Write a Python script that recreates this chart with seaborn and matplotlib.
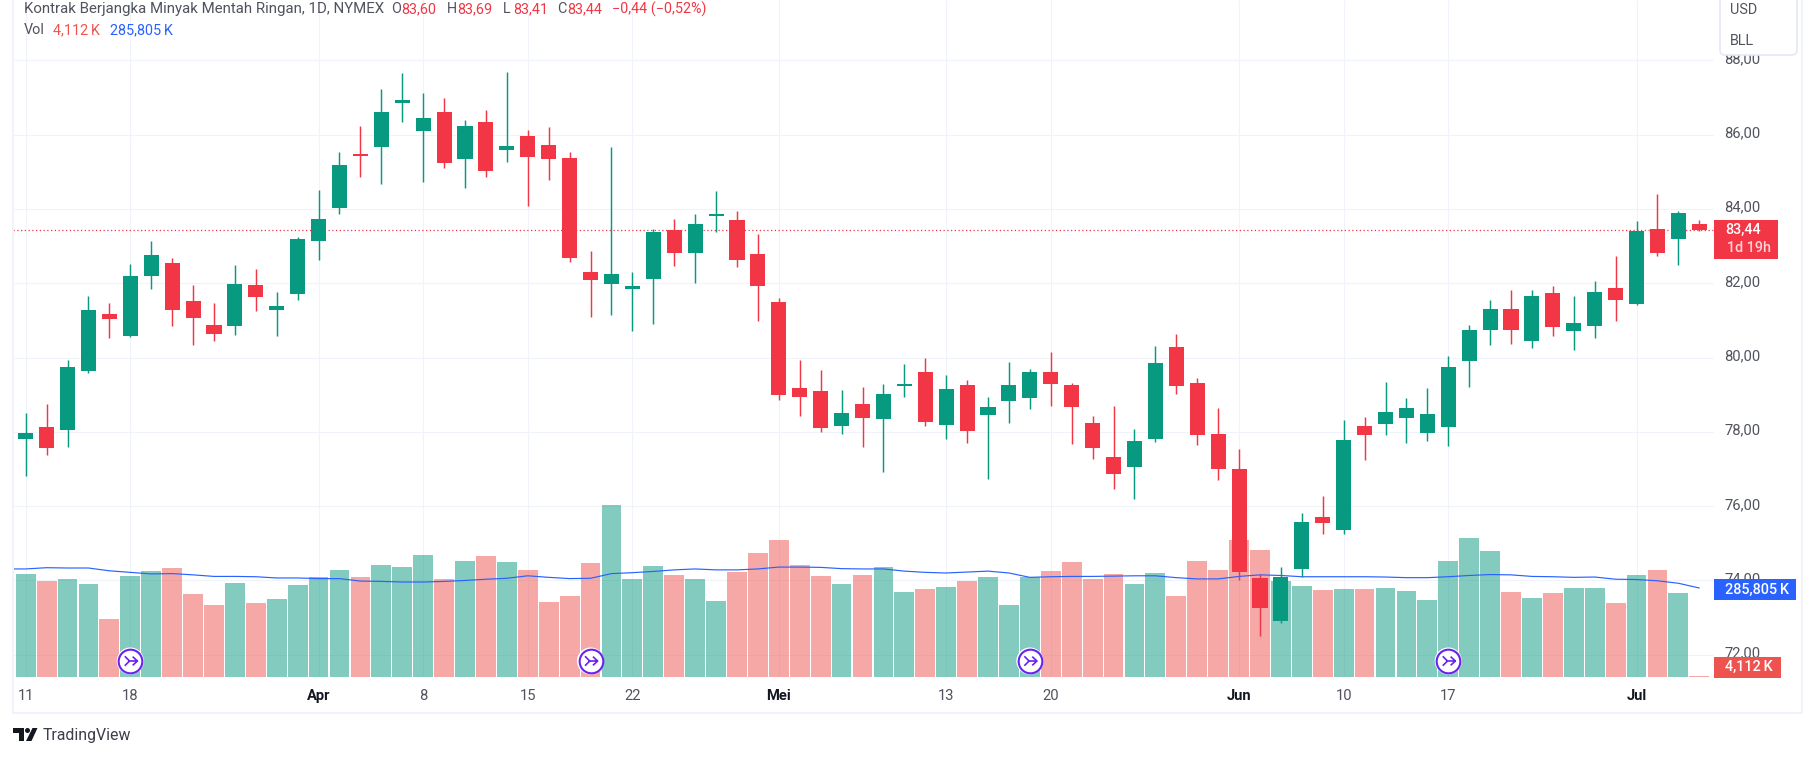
import numpy as np
import pandas as pd
import matplotlib
matplotlib.use("Agg")
import matplotlib.pyplot as plt
from matplotlib.patches import Rectangle, FancyBboxPatch, Polygon, Circle
from matplotlib.path import Path
from matplotlib.transforms import ScaledTranslation
import seaborn as sns

opens = [77.80,78.13,78.04,79.64,81.17,80.59,82.19,82.54,81.52,80.87,80.85,81.95,81.28,81.71,83.13,84.02,85.48,85.67,86.85,86.10,86.61,85.34,86.34,85.59,85.96,85.72,85.37,82.30,81.98,81.84,82.11,83.43,82.81,83.81,83.70,82.78,81.49,79.18,79.10,78.15,78.75,78.34,79.23,79.61,78.18,79.26,78.45,78.83,78.91,79.61,79.26,78.23,77.32,77.05,77.80,80.28,79.31,77.94,77.00,74.06,72.90,74.30,75.70,75.35,78.15,78.21,78.37,77.96,78.13,79.90,80.74,81.30,80.44,81.73,80.71,80.85,81.87,81.44,83.46,83.19,83.60]
highs = [78.50,78.75,79.93,81.65,81.47,82.52,83.13,82.68,81.95,81.47,82.49,82.38,81.76,83.24,84.51,85.53,86.23,87.23,87.66,87.12,86.99,86.39,86.66,87.69,86.12,86.20,85.53,82.87,85.67,82.30,83.46,83.73,83.86,84.48,83.94,83.32,81.60,79.93,79.66,79.12,79.20,79.28,79.82,79.98,79.53,79.39,78.93,79.88,79.69,80.15,79.31,78.42,78.69,78.07,80.31,80.63,79.45,78.64,77.53,74.17,74.36,75.81,76.27,78.31,78.39,79.34,78.91,79.18,80.04,80.87,81.55,81.82,81.82,81.92,81.65,82.06,82.73,83.67,84.40,83.94,83.69]
lows = [76.81,77.37,77.59,79.59,80.52,80.55,81.84,80.85,80.33,80.44,80.60,81.25,80.58,81.55,82.62,83.86,84.86,84.67,86.34,84.72,85.10,84.56,84.86,85.26,84.08,84.78,82.57,81.09,81.14,80.71,80.90,82.46,82.00,83.38,82.43,80.98,78.85,78.42,77.99,77.94,77.59,76.91,78.93,78.15,77.80,77.69,76.73,78.23,78.61,78.69,77.67,77.26,76.46,76.19,77.72,79.01,77.64,76.70,74.01,72.50,72.85,74.09,75.24,75.24,77.24,77.91,77.69,77.75,77.61,79.20,80.33,80.36,80.25,80.58,80.20,80.52,80.98,81.41,82.73,82.49,83.41]
closes = [77.96,77.56,79.74,81.28,81.03,82.19,82.76,81.28,81.06,80.63,81.98,81.63,81.38,83.19,83.73,85.18,85.42,86.61,86.93,86.45,85.24,86.23,85.02,85.69,85.40,85.34,82.68,82.08,82.25,81.92,83.38,82.81,83.59,83.86,82.62,81.92,78.99,78.93,78.10,78.50,78.37,79.01,79.28,78.26,79.15,78.02,78.66,79.26,79.61,79.28,78.66,77.56,76.86,77.75,79.85,79.23,77.91,77.00,74.22,73.25,74.09,75.57,75.54,77.78,77.91,78.53,78.64,78.48,79.74,80.74,81.30,80.74,81.65,80.82,80.93,81.76,81.55,83.40,82.81,83.89,83.44]
volume_k = [331,308,315,299,186,324,340,350,267,231,302,238,250,295,321,344,321,360,353,392,315,372,389,369,344,241,260,366,552,315,356,328,315,244,337,398,440,360,324,299,328,353,273,283,289,308,321,231,321,340,369,315,331,299,334,260,372,344,440,408,308,292,279,283,283,286,276,247,372,446,405,273,254,270,286,286,238,328,344,270,4.112]
volume_ma_k = [347,347,351,350,350,341,336,331,332,328,323,323,322,318,318,316,316,308,307,305,305,307,310,314,317,325,320,316,317,332,335,339,344,347,344,344,347,353,353,352,348,347,347,340,336,334,337,340,334,320,322,323,323,324,325,325,319,315,315,323,328,326,322,322,322,322,321,319,319,322,326,329,328,323,322,320,321,314,313,309,301,285.8]
price_ticks = [72,74,76,78,80,82,84,86,88]
price_tick_labels = ["72,00","74,00","76,00","78,00","80,00","82,00","84,00","86,00","88,00"]
date_ticks = [0,5,14,19,24,29,36,44,49,58,63,68,77]
date_labels = ["11","18","Apr","8","15","22","Mei","13","20","Jun","10","17","Jul"]
month_labels = ["Apr","Mei","Jun","Jul"]
event_bars = [5,27,48,68]
last_price = 83.44

GREEN, RED, VOLRED, BLUE, GRID = "#089981", "#F23645", "#EF5350", "#2962FF", "#F0F3FA"
PURPLE = "#6A22F0"

sns.set_theme(style="white")
plt.rcParams["font.family"] = ["Roboto", "DejaVu Sans"]

W, H = 1814, 757
PANE_L, PANE_R, PANE_B = 13, 1714, 677
fig = plt.figure(figsize=(W/100, H/100), dpi=100, facecolor="white")
rect = [PANE_L/W, 1-PANE_B/H, (PANE_R-PANE_L)/W, PANE_B/H]
ylim = (88-(PANE_B-60.3)/37.15, 88+60.3/37.15)
xlim = ((PANE_L-25.7)/20.92, (PANE_R-25.7)/20.92)

ax = fig.add_axes(rect, zorder=1, facecolor="white")
ax_vol = fig.add_axes(rect, zorder=2, facecolor="none")
ax_c = fig.add_axes(rect, zorder=3, facecolor="none")

idx = np.arange(len(closes))
df = pd.DataFrame({"i": idx, "o": opens, "h": highs, "l": lows, "c": closes, "v": volume_k})
df["dir"] = np.where(df.c >= df.o, "up", "down")

# base axes: grid + tick labels
ax.set_xlim(xlim); ax.set_ylim(ylim)
ax.set_yticks(price_ticks, price_tick_labels)
ax.set_xticks(date_ticks, date_labels)
ax.yaxis.tick_right()
ax.tick_params(axis="y", length=0, pad=7.6, labelsize=10.6, labelcolor="#50535E")
ax.tick_params(axis="x", length=0, pad=8.5, labelsize=10.6, labelcolor="#50535E")
up_shift = ScaledTranslation(0, 2/72, fig.dpi_scale_trans)
for t in ax.get_yticklabels():
    t.set_transform(t.get_transform() + up_shift)
for t in ax.get_xticklabels():
    if t.get_text() in month_labels:
        t.set_fontweight("bold"); t.set_color("#131722")
ax.grid(True, color=GRID, lw=0.75)
ax.set_axisbelow(True)
for s in ax.spines.values():
    s.set_visible(False)
ax.axhline(last_price, color=RED, lw=0.9, ls=(0, (1, 2)))

# volume
sns.barplot(data=df, x="i", y="v", hue="dir", palette={"up": GREEN, "down": VOLRED},
            dodge=False, width=0.945, native_scale=True, saturation=1, alpha=0.5,
            errorbar=None, legend=False, linewidth=0, ax=ax_vol)
sns.lineplot(x=np.arange(-1, len(closes)), y=volume_ma_k, color=BLUE, lw=0.85, errorbar=None, ax=ax_vol)
ax_vol.set_xlim(xlim); ax_vol.set_ylim(0, PANE_B*3.2112)
ax_vol.axis("off")

# candles
ax_c.set_xlim(xlim); ax_c.set_ylim(ylim); ax_c.axis("off")
for name, col in (("up", GREEN), ("down", RED)):
    d = df[df.dir == name]
    ax_c.vlines(d.i, d.l, d.h, color=col, lw=1.05)
    ax_c.bar(d.i, (d.c-d.o).abs(), bottom=d[["o", "c"]].min(axis=1), width=0.72, color=col, linewidth=0)

# event markers (bottom of pane, in the volume axes)
ev_y = [51.4]*len(event_bars)
ax_vol.scatter(event_bars, ev_y, s=380, c="white", edgecolors="none", zorder=5)
ax_vol.scatter(event_bars, ev_y, s=290, c="white", edgecolors=PURPLE, linewidths=1.5, zorder=6)
arrow = Path([(0.3,0.55),(0.9,0),(0.3,-0.55),(-0.1,0),(0.9,0),(-0.7,0.6),(-0.1,0),(-0.7,-0.6),(-0.1,0)],
             [Path.MOVETO,Path.LINETO,Path.LINETO,Path.MOVETO,Path.LINETO,Path.MOVETO,Path.LINETO,Path.MOVETO,Path.LINETO])
ax_vol.scatter(event_bars, ev_y, s=105, marker=arrow, facecolors="none", edgecolors=PURPLE, linewidths=1.2, zorder=7)

# overlay in pixel coordinates for interface furniture
ui = fig.add_axes([0, 0, 1, 1], zorder=10, facecolor="none")
ui.set_xlim(0, W); ui.set_ylim(H, 0); ui.axis("off")
for r in [(12, 0, 2, 714), (12, 712, 1791, 2), (1801, 0, 2, 714)]:
    ui.add_patch(Rectangle(r[:2], r[2], r[3], color=GRID, lw=0))

def T(x, y, s, c="#131722", size=10.4, **kw):
    ui.text(x, y, s, color=c, fontsize=size, va="center", ha=kw.pop("ha", "left"), **kw)

# header
T(23.7, 9, "Kontrak Berjangka Minyak Mentah Ringan, 1D, NYMEX", "#50535E", size=10.8)
for x, lab, val in [(391, "O", "83,60"), (447, "H", "83,69"), (503, "L", "83,41"), (557, "C", "83,44")]:
    T(x, 9, lab, "#50535E")
    T(x+10.5, 9, val, RED)
T(612, 9, "\u22120,44 (\u22120,52%)", RED)
T(23.7, 30, "Vol", "#50535E")
T(52.6, 30, "4,112\u2009K", VOLRED)
T(109.5, 30, "285,805\u2009K", BLUE)

# currency box
ui.add_patch(FancyBboxPatch((1720, -10), 77, 65, boxstyle="round,pad=0,rounding_size=5",
                            fc="white", ec="#E6E9F2", lw=1.2))
T(1730, 9.5, "USD", "#50535E")
T(1730, 40.7, "BLL", "#50535E")

# value tags
ui.add_patch(Rectangle((1714, 220), 64, 39, color=RED, lw=0))
T(1725.4, 229.7, "83,44", "white", weight="medium")
T(1726.6, 248, "1d 19h", "#FFD5D8", weight="medium")
ui.add_patch(Rectangle((1714, 579), 82, 21, color=BLUE, lw=0))
T(1725.4, 589.5, "285,805\u2009K", "white", weight="medium")
ui.add_patch(Rectangle((1714, 657), 67, 20.5, color=VOLRED, lw=0))
T(1725.4, 667, "4,112\u2009K", "white", weight="medium")

# TradingView wordmark
ui.add_patch(Polygon([(13,728),(24,728),(24,741),(18.5,741),(18.5,733),(13,733)], color="#131722", lw=0))
ui.add_patch(Circle((27.5,730.5), 2.5, color="#131722", lw=0))
ui.add_patch(Polygon([(32.5,728),(37.5,728),(31.5,741),(26,741)], color="#131722", lw=0))
T(42.3, 735.5, "TradingView", "#3C3F48", size=11.4)

fig.savefig("out.png", dpi=100, facecolor="white")
